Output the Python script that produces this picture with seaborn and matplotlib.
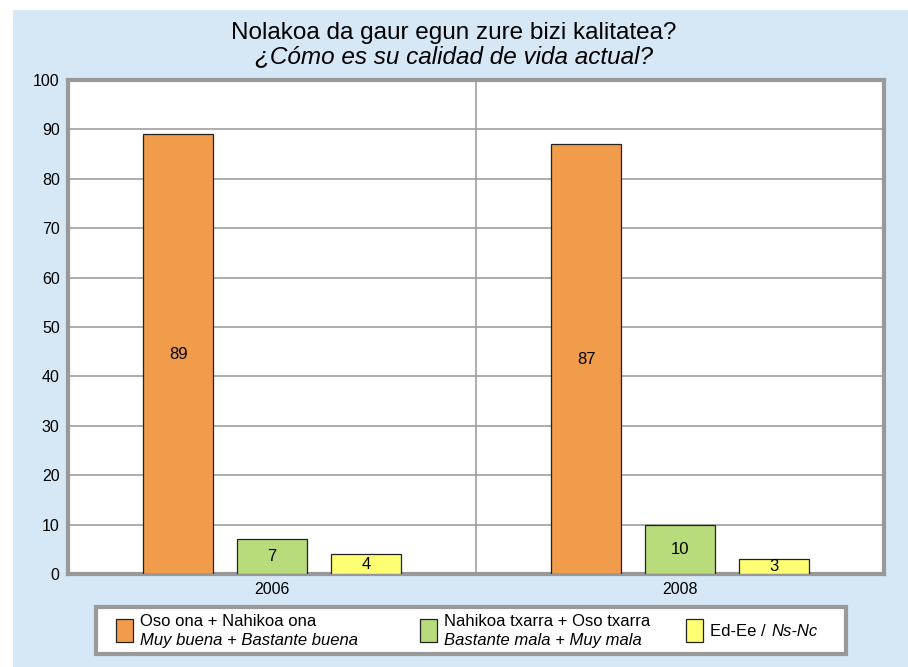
import numpy as np
import pandas as pd
import matplotlib.pyplot as plt
import seaborn as sns
from matplotlib.patches import Rectangle

# datuak
years = ['2006', '2008']
series = ['Oso ona + Nahikoa ona', 'Nahikoa txarra + Oso txarra', 'Ed-Ee / Ns-Nc']
values_good = [89, 87]
values_bad = [7, 10]
values_nsnc = [4, 3]
colors = ['#F09C4A', '#B8DC7C', '#FFFF73']

df = pd.DataFrame({
    'year': years * 3,
    'serie': [series[0]] * 2 + [series[1]] * 2 + [series[2]] * 2,
    'value': values_good + values_bad + values_nsnc,
})

sns.set_style('white')
plt.rcParams['font.family'] = ['Liberation Sans', 'DejaVu Sans']
plt.rcParams['text.color'] = 'black'
plt.rcParams['xtick.color'] = 'black'
plt.rcParams['ytick.color'] = 'black'

W, H = 908, 667
fig = plt.figure(figsize=(W / 100, H / 100), dpi=100)
fig.patch.set_facecolor('white')
# fondo azul
fig.add_artist(Rectangle((13 / W, 0), 1 - 13 / W, 1 - 10 / H, transform=fig.transFigure,
                         facecolor='#D6E8F5', edgecolor='none', zorder=0))

ax = fig.add_axes([68 / W, 1 - 574 / H, (884 - 68) / W, (574 - 80) / H])
ax.set_facecolor('white')

sns.barplot(data=df, x='year', y='value', hue='serie', hue_order=series, order=years,
            palette=colors, saturation=1, width=0.69, gap=0.25, edgecolor='#222222',
            linewidth=0.9, legend=False, ax=ax, zorder=3)

ax.set_ylim(0, 100)
ax.set_xlim(-0.5, 1.5)
ax.set_yticks(np.arange(0, 101, 10))
ax.set_xlabel('')
ax.set_ylabel('')
ax.tick_params(axis='both', labelsize=11.5, length=0, pad=6)
ax.grid(axis='y', color='#A0A0A0', linewidth=1.2, zorder=0)
ax.axvline(0.5, color='#A0A0A0', linewidth=1.2, zorder=0)
for s in ax.spines.values():
    s.set_color('#999999')
    s.set_linewidth(3)

# etiketak
for cont in ax.containers:
    for bar in cont:
        h = bar.get_height()
        ax.text(bar.get_x() + bar.get_width() / 2, h / 2,
                f'{h:.0f}', ha='center', va='center', fontsize=12, zorder=5)

fig.text(0.5, 1 - 33 / H, 'Nolakoa da gaur egun zure bizi kalitatea?', ha='center', va='center',
         fontsize=17.5)
fig.text(0.5, 1 - 57 / H, '¿Cómo es su calidad de vida actual?', ha='center', va='center',
         fontsize=17.5, style='italic')

# legenda
fig.add_artist(Rectangle((96 / W, 1 - 654 / H), (846 - 96) / W, (654 - 607) / H,
                         transform=fig.transFigure, facecolor='white', edgecolor='#999999',
                         linewidth=3, zorder=2))
leg_items = [
    (116, 'Oso ona + Nahikoa ona', 'Muy buena + Bastante buena'),
    (420, 'Nahikoa txarra + Oso txarra', 'Bastante mala + Muy mala'),
    (686, None, None),
]
for (x0, l1, l2), c in zip(leg_items, colors):
    fig.add_artist(Rectangle((x0 / W, 1 - 642 / H), 17 / W, 23 / H, transform=fig.transFigure,
                             facecolor=c, edgecolor='#222222', linewidth=0.9, zorder=3))
    if l1:
        fig.text((x0 + 24) / W, 1 - 621 / H, l1, fontsize=12, va='center', zorder=4)
        fig.text((x0 + 24) / W, 1 - 640 / H, l2, fontsize=12, va='center', style='italic', zorder=4)
fig.text(710 / W, 1 - 631 / H, 'Ed-Ee /', fontsize=12, va='center', zorder=4)
fig.text(771 / W, 1 - 631 / H, 'Ns-Nc', fontsize=12, va='center', style='italic', zorder=4)

fig.savefig('out.png', dpi=100, facecolor='white')
